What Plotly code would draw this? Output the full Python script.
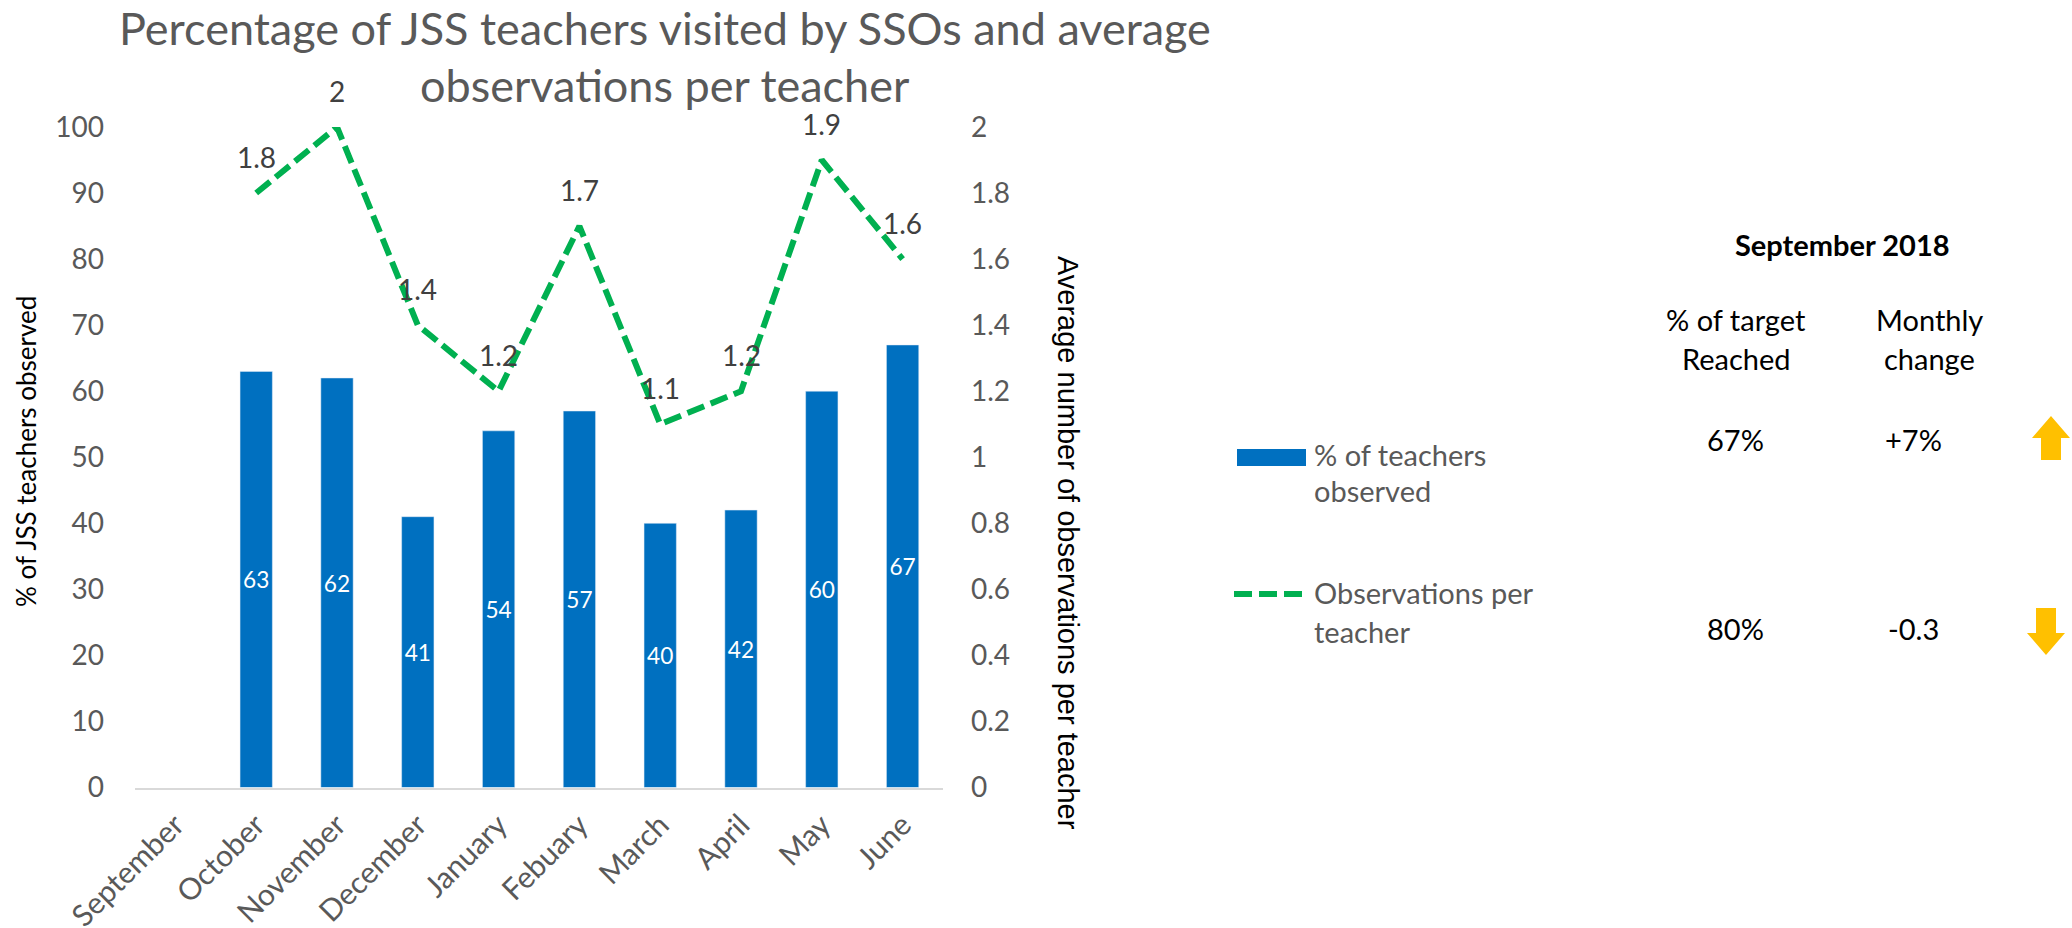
import plotly.graph_objects as go

W, H = 2072, 928
months = ["September", "October", "November", "December", "January", "Febuary", "March", "April", "May", "June"]
pct_observed = [None, 63, 62, 41, 54, 57, 40, 42, 60, 67]
obs_per_teacher = [None, 1.8, 2, 1.4, 1.2, 1.7, 1.1, 1.2, 1.9, 1.6]
left_ticks = list(range(0, 101, 10))
right_ticks = [0, 0.2, 0.4, 0.6, 0.8, 1, 1.2, 1.4, 1.6, 1.8, 2]
right_tick_labels = ["0", "0.2", "0.4", "0.6", "0.8", "1", "1.2", "1.4", "1.6", "1.8", "2"]

FONT = "Lato"
GREY = "#595959"
BLUE = "#0070C0"
GREEN = "#00B050"
AMBER = "#FFC000"
DASH = "18px,7px"

def px(x): return x / W
def py(y): return 1 - y / H

fig = go.Figure()
fig.add_trace(go.Bar(
    x=months, y=pct_observed, name="% of teachers observed", marker_color=BLUE,
    text=[str(v) if v is not None else "" for v in pct_observed],
    textposition="inside", insidetextanchor="middle", textangle=0,
    insidetextfont=dict(family=FONT, size=27, color="white"), yaxis="y", cliponaxis=False))
fig.add_trace(go.Scatter(
    x=months, y=obs_per_teacher, name="Observations per teacher", mode="lines",
    line=dict(color=GREEN, width=6, dash=DASH), yaxis="y2", cliponaxis=False))

annotations = []
for m, v in zip(months, obs_per_teacher):
    if v is not None:
        annotations.append(dict(x=m, y=v, xref="x", yref="y2", yshift=36, text=f"{v:g}", showarrow=False,
                                font=dict(family=FONT, size=28, color="#404040")))

def label(x, y, text, color="black", size=29, bold=False, anchor="center", angle=0, family=FONT):
    annotations.append(dict(x=px(x), y=py(y), xref="paper", yref="paper", text=f"<b>{text}</b>" if bold else text,
                            showarrow=False, xanchor=anchor, yanchor="middle", textangle=angle,
                            font=dict(family=family, size=size, color=color)))

label(665, 28, "Percentage of JSS teachers visited by SSOs and average", GREY, 45)
label(665, 85, "observations per teacher", GREY, 45)
label(1842, 244, "September 2018", bold=True)
label(1736, 319, "% of target")
label(1736, 358, "Reached")
label(1929, 319, "Monthly")
label(1929, 358, "change")
label(1735, 439, "67%")
label(1913, 439, "+7%")
label(1735, 628, "80%")
label(1913, 628, "-0.3")
label(1312, 454, "% of teachers", GREY, anchor="left")
label(1312, 491, "observed", GREY, anchor="left")
label(1312, 592, "Observations per", GREY, anchor="left")
label(1312, 631, "teacher", GREY, anchor="left")
label(26, 452, "% of JSS teachers observed", size=26, angle=-90)
label(1068, 543, "Average number of observations per teacher", size=29, angle=90, family="Liberation Sans")

def arrow(cx, top, bottom, up=True):
    hw, sw, hh = 19, 10, 22
    if up:
        pts = [(cx, top), (cx + hw, top + hh), (cx + sw, top + hh), (cx + sw, bottom), (cx - sw, bottom), (cx - sw, top + hh), (cx - hw, top + hh)]
    else:
        pts = [(cx, bottom), (cx + hw, bottom - hh), (cx + sw, bottom - hh), (cx + sw, top), (cx - sw, top), (cx - sw, bottom - hh), (cx - hw, bottom - hh)]
    return dict(type="path", xref="paper", yref="paper", fillcolor=AMBER, line_width=0,
                path="M" + " L".join(f"{px(a):.5f},{py(b):.5f}" for a, b in pts) + " Z")

shapes = [
    dict(type="rect", xref="paper", yref="paper", x0=px(1237), x1=px(1306), y0=py(466), y1=py(449), fillcolor=BLUE, line_width=0),
    dict(type="line", xref="paper", yref="paper", x0=px(1234), x1=px(1306), y0=py(594), y1=py(594),
         line=dict(color=GREEN, width=6, dash=DASH)),
    arrow(2051, 416, 460, True),
    arrow(2046, 608, 655, False),
]

fig.update_layout(
    width=W, height=H, autosize=False, margin=dict(l=0, r=0, t=0, b=0),
    paper_bgcolor="white", plot_bgcolor="white", showlegend=False, bargap=0.6,
    font=dict(family=FONT, size=28, color=GREY),
    annotations=annotations, shapes=shapes,
    xaxis=dict(domain=[px(135), px(943)], anchor="y", type="category", categoryorder="array", categoryarray=months,
               range=[-0.5, 9.5], tickangle=-45, showgrid=False, showline=True, linecolor="#D9D9D9", linewidth=2,
               ticks="", ticklabelstandoff=6, automargin=False, tickfont=dict(family=FONT, size=30, color=GREY)),
    yaxis=dict(domain=[py(787.5), py(127)], range=[0, 100], tickvals=left_ticks, showgrid=False, zeroline=False,
               showline=False, ticks="", ticklabelstandoff=30, automargin=False, tickfont=dict(family=FONT, size=28, color=GREY)),
    yaxis2=dict(overlaying="y", side="right", anchor="x", range=[0, 2], tickvals=right_ticks, ticktext=right_tick_labels,
                showgrid=False, zeroline=False, showline=False, ticks="", ticklabelstandoff=27, automargin=False,
                tickfont=dict(family=FONT, size=28, color=GREY)),
)
fig.write_html("out.html", config={"displayModeBar": False},
               post_script="document.body.style.margin='0';document.body.style.overflow='hidden';")
